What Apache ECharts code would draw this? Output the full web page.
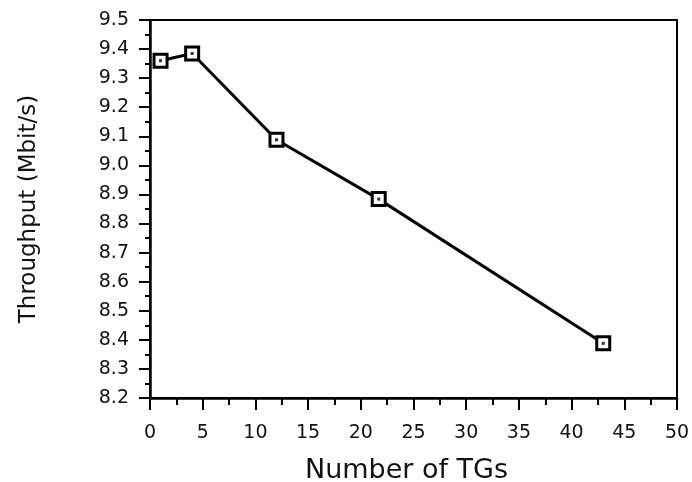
<!DOCTYPE html>
<html style="height: 100%">
   <head>
       <meta charset="utf-8">
   </head>
   <body style="height: 100%; margin: 0; background: #fff">
       <div id="container" style="width: 692px; height: 482px"></div>
       <script type="text/javascript" src="https://cdn.jsdelivr.net/npm/echarts@6/dist/echarts.min.js"></script>
       <script type="text/javascript">
var tgCount = [1, 4, 12, 21.7, 43];
var throughput = [9.36, 9.385, 9.088, 8.884, 8.388];

var xTitle = 'Number of TGs';
var yTitle = 'Throughput (Mbit/s)';

var points = tgCount.map(function (x, i) {
    return [x, throughput[i]];
});

var dom = document.getElementById("container");
var myChart = echarts.init(dom, null, {renderer: 'canvas'});
var font = 'DejaVu Sans';

var option = {
    animation: false,
    backgroundColor: '#fff',
    grid: {
        left: 150,
        right: 15,
        top: 20,
        bottom: 84,
        containLabel: false,
        outerBoundsMode: 'none',
        show: true,
        borderColor: '#000',
        borderWidth: 2
    },
    xAxis: {
        type: 'value',
        min: 0,
        max: 50,
        interval: 5,
        name: xTitle,
        nameLocation: 'middle',
        nameGap: 59,
        nameTextStyle: {fontFamily: font, fontSize: 27, color: '#111', padding: [0, 14, 0, 0]},
        axisLine: {show: true, lineStyle: {color: '#000', width: 2.5}},
        axisTick: {show: true, inside: false, length: 12, lineStyle: {color: '#000', width: 2}},
        minorTick: {show: true, splitNumber: 2, length: 7, lineStyle: {color: '#000', width: 2}},
        splitLine: {show: false},
        axisLabel: {fontFamily: font, fontSize: 19, color: '#111', margin: 26}
    },
    yAxis: {
        type: 'value',
        min: 8.2,
        max: 9.5,
        interval: 0.1,
        name: yTitle,
        nameLocation: 'middle',
        nameGap: 109,
        nameTextStyle: {fontFamily: font, fontSize: 23, color: '#111'},
        axisLine: {show: true, lineStyle: {color: '#000', width: 2.5}},
        axisTick: {show: true, inside: false, length: 11, lineStyle: {color: '#000', width: 2}},
        minorTick: {show: true, splitNumber: 2, length: 5, lineStyle: {color: '#000', width: 2}},
        splitLine: {show: false},
        axisLabel: {
            fontFamily: font, fontSize: 19, color: '#111', margin: 21,
            formatter: function (v) { return v.toFixed(1); }
        }
    },
    series: [
        {
            type: 'line',
            data: points,
            symbol: 'rect',
            symbolSize: 13,
            lineStyle: {color: '#000', width: 3},
            itemStyle: {color: '#fff', borderColor: '#000', borderWidth: 3}
        },
        {
            type: 'scatter',
            data: points,
            symbol: 'rect',
            symbolSize: 3,
            z: 5,
            itemStyle: {color: '#000'}
        }
    ]
};

if (option && typeof option === "object") {
    myChart.setOption(option, true);
}
       </script>
   </body>
</html>
